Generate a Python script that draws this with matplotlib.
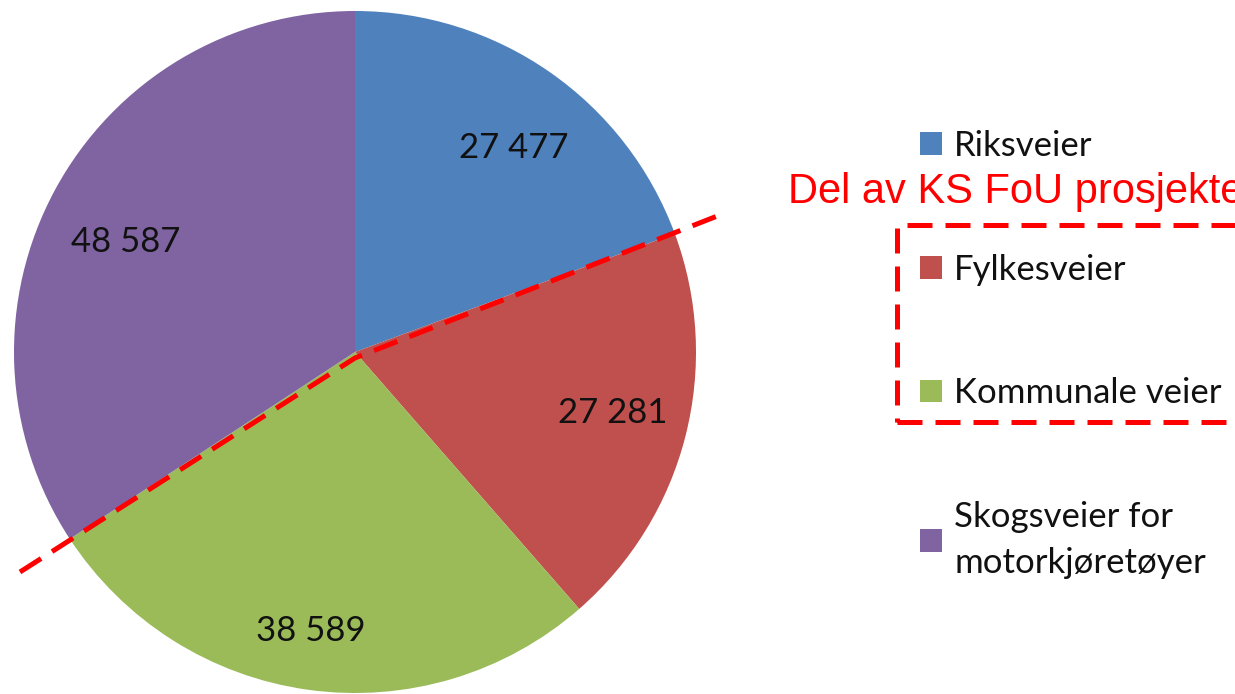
import matplotlib.pyplot as plt
from matplotlib.patches import Rectangle
from matplotlib.transforms import offset_copy

categories = ["Riksveier", "Fylkesveier", "Kommunale veier", "Skogsveier for\nmotorkjøretøyer"]
km = [27477, 27281, 38589, 48587]
colors = ["#4F81BD", "#C0504D", "#9BBB59", "#8064A2"]
total = sum(km)

def fmt(pct):
    v = int(round(pct * total / 100.0))
    return format(v, ",").replace(",", " ")

fig = plt.figure(figsize=(12.35, 6.94), dpi=100)
W, H = 1235, 694

# pie placed by pixel box: center (355,352), radius 341
cx, cy, r = 355, 352, 341
ax = fig.add_axes([(cx - r) / W, (H - cy - r) / H, 2 * r / W, 2 * r / H])
wedges, texts, autotexts = ax.pie(km, colors=colors, startangle=90, counterclock=False,
                                  autopct=fmt, pctdistance=0.77, radius=1,
                                  wedgeprops=dict(linewidth=0),
                                  textprops=dict(fontfamily="Lato", fontsize=25, color="#111111"))
# small nudges of the value labels (pixels)
nudges = [(9, -11), (3, 4), (-8, -19), (2, -15)]
for t, (dx, dy) in zip(autotexts, nudges):
    t.set_transform(offset_copy(ax.transData, fig=fig, x=dx, y=dy, units="dots"))
ax.set_xlim(-1, 1)
ax.set_ylim(-1, 1)
ax.axis("off")

# red dashed dividing line
def px(x, y):
    return (x - cx) / r, (cy - y) / r
pts = [px(20, 572), px(355, 358), px(725, 213)]
ax.plot([p[0] for p in pts], [p[1] for p in pts], color="red", lw=3.6,
        dashes=(5, 2.6), clip_on=False, solid_capstyle="butt")

leg = fig.legend(wedges, categories, loc="upper left", bbox_to_anchor=(920 / W, 1 - 130 / H),
                 frameon=False, prop=dict(family="Lato", size=25),
                 handlelength=0.63, handleheight=0.63, handletextpad=0.35,
                 labelspacing=2.64, borderpad=0, borderaxespad=0)
for t in leg.get_texts():
    t.set_color("#111111")
    t.set_linespacing(1.53)

fig.text(788 / W, 1 - 192 / H, "Del av KS FoU prosjektet", color="red",
         fontfamily="Liberation Sans", fontsize=30, va="center", ha="left")

box = Rectangle((897 / W, 1 - 422 / H), 400 / W, 197 / H, transform=fig.transFigure,
                fill=False, edgecolor="red", lw=3.6, linestyle=(0, (5, 2.6)), clip_on=False)
fig.add_artist(box)

fig.savefig("out.png", dpi=100)
